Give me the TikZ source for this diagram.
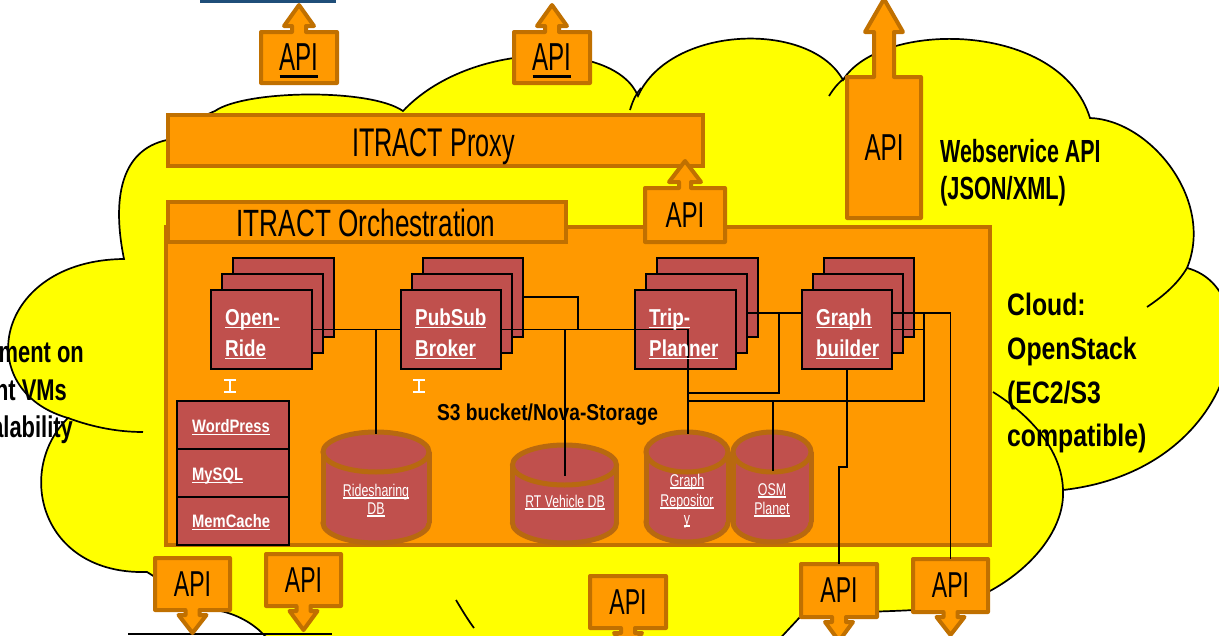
\documentclass[tikz,border=0pt]{standalone}
\usepackage{fontspec}
\setmainfont{Liberation Sans}
\usepackage{graphicx}
\usetikzlibrary{calc}
\definecolor{cyel}{HTML}{FFFF00}
\definecolor{corg}{HTML}{FF9900}
\definecolor{corgb}{HTML}{C07000}
\definecolor{cred}{HTML}{C0504D}
\definecolor{ccylb}{HTML}{B8690F}
\definecolor{cblue}{HTML}{1F4E79}
\newcommand{\sx}[2]{\scalebox{#1}[1]{#2}}
\newcommand{\ulbox}[3]{\setbox0=\hbox{#3}\rlap{\raisebox{0pt}[0pt][0pt]{\rule[-#1]{\wd0}{#2}}}\box0}
\newcommand{\fs}[1]{\fontsize{#1}{#1}\selectfont}
\newcommand{\apiup}[8]{%
 \draw[apishape] ({#1-#2},#3) -- ({#1-#5},#3) -- ({#1-#5},#7) -- ({#1-#6},#7) -- (#1,#8) -- ({#1+#6},#7) -- ({#1+#5},#7) -- ({#1+#5},#3) -- ({#1+#2},#3) -- ({#1+#2},#4) -- ({#1-#2},#4) -- cycle;}
\newcommand{\apidown}[8]{%
 \draw[apishape] ({#1-#2},#3) -- ({#1+#2},#3) -- ({#1+#2},#4) -- ({#1+#5},#4) -- ({#1+#5},#7) -- ({#1+#6},#7) -- (#1,#8) -- ({#1-#6},#7) -- ({#1-#5},#7) -- ({#1-#5},#4) -- ({#1-#2},#4) -- cycle;}
\newcommand{\cylinder}[4]{% cx, rx, ytop, ybot
 \filldraw[cyl] (#1,{#4-20}) ellipse[x radius=#2, y radius=20];
 \fill[cred] ({#1-#2},{#3+20}) rectangle ({#1+#2},{#4-20});
 \draw[cylside] ({#1-#2},{#3+20}) -- ({#1-#2},{#4-20});
 \draw[cylside] ({#1+#2},{#3+20}) -- ({#1+#2},{#4-20});
 \filldraw[cyl] (#1,{#3+20}) ellipse[x radius=#2, y radius=20];}
\tikzset{
 cloudln/.style={draw=black, line width=1.7},
 obox/.style={draw=corgb, fill=corg, line width=4.5, rectangle, inner sep=0, outer sep=0},
 apishape/.style={draw=corgb, fill=corg, line width=4, line join=round},
 apitxt/.style={rectangle, inner sep=0, outer sep=0, text=black},
 comp/.style={draw=black, fill=cred, line width=2, rectangle, inner sep=0, outer sep=0},
 conn/.style={draw=black, line width=1.8},
 cyl/.style={draw=ccylb, fill=cred, line width=5},
 cylside/.style={draw=ccylb, line width=5},
 wlab/.style={text=white, font=\bfseries\fs{23}, inner sep=0, anchor=base west},
 slab/.style={text=white, font=\bfseries\fs{18}, inner sep=0, anchor=base west},
 clab/.style={text=white, font=\fs{17}, inner sep=0, anchor=base},
 btxt/.style={text=black, font=\bfseries\fs{32}, inner sep=0, anchor=base west},
 ltxt/.style={text=black, font=\bfseries\fs{30}, inner sep=0, anchor=base east},
 ibeam/.style={draw=white, line width=1.3},
}
\begin{document}
\begin{tikzpicture}[x=1pt, y=-1pt]
\useasboundingbox (0,0) rectangle (1219,635);
\clip (0,0) rectangle (1219,635);
\fill[white] (0,0) rectangle (1219,635);
% cloud
\path[fill=cyel, cloudln]
 (124,259) .. controls (112,200) and (120,150) .. (167,140)
 .. controls (185,128) and (200,117) .. (215,111)
 .. controls (245,90) and (370,88) .. (403,111)
 .. controls (470,40) and (615,40) .. (638,96)
 .. controls (670,25) and (810,20) .. (843,80)
 .. controls (880,20) and (1060,20) .. (1090,118)
 .. controls (1150,120) and (1215,200) .. (1187,268)
 .. controls (1270,290) and (1240,470) .. (1063,490)
 .. controls (1065,530) and (1030,570) .. (988,592)
 .. controls (960,605) and (930,610) .. (914,610)
 .. controls (880,612) and (830,612) .. (800,617)
 -- (760,660) -- (290,660) -- (264,635)
 .. controls (250,620) and (230,612) .. (215,610)
 .. controls (190,600) and (160,580) .. (147,572)
 .. controls (40,575) and (15,470) .. (68,418)
 .. controls (-30,390) and (-5,260) .. (124,259) -- cycle;
\draw[cloudln] (68,418) .. controls (95,428) and (120,432) .. (143,432);
\draw[cloudln] (456,600) .. controls (462,610) and (468,620) .. (474,628);
\draw[cloudln] (630,110) .. controls (633,100) and (636,94) .. (641,88);
\draw[cloudln] (829,96) .. controls (834,88) and (839,82) .. (845,78);
\draw[cloudln] (1147,307) .. controls (1165,295) and (1178,283) .. (1187,268);
\draw[cloudln] (993,392) .. controls (1030,415) and (1062,450) .. (1063,490);
% frame bits
\fill[cblue] (200,0) rectangle (336,3);
\draw[line width=2] (128,634) -- (332,634);
% left text (cut off by the frame as in the reference)
\node[ltxt] (lt1) at (84,362) {\sx{0.73}{ment on}};
\node[ltxt] (lt2) at (67,400) {\sx{0.73}{nt VMs}};
\node[ltxt] (lt3) at (73,437) {\sx{0.73}{alability}};
% right texts
\node[btxt] (ws1) at (940,162) {\sx{0.67}{Webservice API}};
\node[btxt] (ws2) at (940,199) {\sx{0.68}{(JSON/XML)}};
\node[btxt, font=\bfseries\fs{31}] (cl1) at (1007,315) {\sx{0.8}{Cloud:}};
\node[btxt, font=\bfseries\fs{31}] (cl2) at (1007,359) {\sx{0.8}{OpenStack}};
\node[btxt, font=\bfseries\fs{31}] (cl3) at (1007,403) {\sx{0.8}{(EC2/S3}};
\node[btxt, font=\bfseries\fs{31}] (cl4) at (1007,446) {\sx{0.8}{compatible)}};
% proxy
\node[obox, minimum width=535, minimum height=51] (proxy) at (435.5,140.5) {};
\node[inner sep=0, anchor=base, font=\fs{40}] (proxyT) at (433.5,156) {\sx{0.63}{ITRACT Proxy}};
% top APIs
\apiup{299}{38}{32}{83}{7}{15}{26}{5}
\node[apitxt, minimum width=76, minimum height=51, font=\fs{39}] (apiT1) at (299,57.5) {\sx{0.62}{\ulbox{7pt}{3pt}{API}}};
\apiup{552}{38}{32}{83}{7}{15}{26}{5}
\node[apitxt, minimum width=76, minimum height=51, font=\fs{39}] (apiT2) at (552,57.5) {\sx{0.62}{\ulbox{7pt}{3pt}{API}}};
% big API
\apiup{884}{37}{77}{218}{10}{19}{32}{-1}
\node[apitxt, minimum width=74, minimum height=141, font=\fs{37.5}] (apiBig) at (884,147.5) {\sx{0.645}{API}};
% orchestration
\node[obox, minimum width=824, minimum height=318] (orch) at (578,386) {};
\node[obox, minimum width=398, minimum height=40] (orchTab) at (367,222) {};
\node[inner sep=0, anchor=base, font=\fs{38}] (orchT) at (366,236) {\sx{0.688}{ITRACT Orchestration}};
\apiup{685}{40}{188}{242}{6}{16}{182}{161}
\node[apitxt, minimum width=80, minimum height=54, font=\fs{36}] (apiM) at (685,215) {\sx{0.67}{API}};
% component stacks
\node[comp, minimum width=101, minimum height=79] (or3) at (283.5,297.5) {};
\node[comp, minimum width=101, minimum height=79] (or2) at (272.5,313.5) {};
\node[comp, minimum width=101, minimum height=79] (or1) at (261.5,329.5) {};
\node[comp, minimum width=100, minimum height=79] (pb3) at (473,297.5) {};
\node[comp, minimum width=100, minimum height=79] (pb2) at (462,313.5) {};
\node[comp, minimum width=100, minimum height=79] (pb1) at (451,329.5) {};
\node[comp, minimum width=101, minimum height=79] (tp3) at (707.5,297.5) {};
\node[comp, minimum width=101, minimum height=79] (tp2) at (696.5,313.5) {};
\node[comp, minimum width=101, minimum height=79] (tp1) at (685,329.5) {};
\node[comp, minimum width=90, minimum height=79] (gb3) at (869,297.5) {};
\node[comp, minimum width=90, minimum height=79] (gb2) at (858,313.5) {};
\node[comp, minimum width=90, minimum height=79] (gb1) at (847,329.5) {};
\node[comp, minimum width=112, minimum height=48] (wp) at (233,425) {};
\node[comp, minimum width=112, minimum height=48] (my) at (233,473) {};
\node[comp, minimum width=112, minimum height=48] (mc) at (233,521) {};
% cylinders
\cylinder{376}{53}{432}{543}
\cylinder{564.5}{52}{445}{543}
\cylinder{687}{41}{432}{542}
\cylinder{772}{39}{432}{542}
\coordinate (rideTop) at (376,434);
\coordinate (rtTop) at (565,476);
\coordinate (grTop) at (688,434);
\coordinate (osmTop) at (773,471);
% bottom APIs
\apidown{192.5}{37.5}{558}{610}{7}{14}{615}{633}
\node[apitxt, minimum width=75, minimum height=52, font=\fs{36}] (api1) at (192.5,584) {\sx{0.64}{API}};
\apidown{303.5}{37.5}{554}{606}{7}{14}{611}{630}
\node[apitxt, minimum width=75, minimum height=52, font=\fs{36}] (api2) at (303.5,580) {\sx{0.64}{API}};
\apidown{628}{38}{576}{628}{7}{14}{633}{652}
\node[apitxt, minimum width=76, minimum height=52, font=\fs{36}] (api3) at (628,602) {\sx{0.64}{API}};
\apidown{839}{38}{564}{617}{7}{14}{622}{641}
\node[apitxt, minimum width=76, minimum height=53, font=\fs{36}] (api4) at (839,590.5) {\sx{0.64}{API}};
\apidown{950.5}{37.5}{559}{612}{7}{14}{617}{635}
\node[apitxt, minimum width=75, minimum height=53, font=\fs{36}] (api5) at (950.5,585.5) {\sx{0.64}{API}};
% connectors
\coordinate (jA) at (578,297);
\coordinate (jB) at (779,313);
\coordinate (jC) at (950.5,313);
\coordinate (jD) at (924,313);
\coordinate (jE) at (924,401);
\coordinate (jF) at (847,467);
\draw[conn] (or1.east) -- (pb1.west);
\draw[conn] (rideTop |- or1.east) -- (rideTop);
\draw[conn] (pb1.east) -- (grTop |- pb1.east) -- (grTop);
\draw[conn] (pb3.east |- jA) -- (jA) -- (jA |- pb1.east);
\draw[conn] (rtTop |- pb1.east) -- (rtTop);
\draw[conn] (tp2.east |- jB) -- (gb1.west |- jB);
\draw[conn] (jB) -- (jB |- 0,393) -- (grTop |- 0,393);
\draw[conn] (gb1.east |- jC) -- (jC) -- (api5.north);
\draw[conn] (gb1.east) -- (jD |- gb1.east);
\draw[conn] (jD) -- (jE) -- (grTop |- jE);
\draw[conn] (osmTop |- jE) -- (osmTop);
\draw[conn] (gb1.south) -- (jF) -- (api4.north |- jF) -- (api4.north);
% component labels
\node[wlab] (orL1) at (225,325) {\sx{0.82}{\ulbox{3pt}{1.5pt}{Open-}}};
\node[wlab] (orL2) at (225,356) {\sx{0.82}{\ulbox{3pt}{1.5pt}{Ride}}};
\node[wlab] (pbL1) at (415,325) {\sx{0.82}{\ulbox{3pt}{1.5pt}{PubSub}}};
\node[wlab] (pbL2) at (415,356) {\sx{0.82}{\ulbox{3pt}{1.5pt}{Broker}}};
\node[wlab] (tpL1) at (649,325) {\sx{0.82}{\ulbox{3pt}{1.5pt}{Trip-}}};
\node[wlab] (tpL2) at (649,356) {\sx{0.82}{\ulbox{3pt}{1.5pt}{Planner}}};
\node[wlab] (gbL1) at (816,325) {\sx{0.82}{\ulbox{3pt}{1.5pt}{Graph}}};
\node[wlab] (gbL2) at (816,356) {\sx{0.82}{\ulbox{3pt}{1.5pt}{builder}}};
\node[slab] (wpL) at (192,432) {\sx{0.82}{\ulbox{3pt}{1.3pt}{WordPress}}};
\node[slab] (myL) at (192,480) {\sx{0.82}{\ulbox{3pt}{1.3pt}{MySQL}}};
\node[slab] (mcL) at (192,527) {\sx{0.82}{\ulbox{3pt}{1.3pt}{MemCache}}};
\node[clab] (rdL1) at (376,496) {\sx{0.73}{\ulbox{2.5pt}{1.2pt}{Ridesharing}}};
\node[clab] (rdL2) at (376,514) {\sx{0.73}{\ulbox{2.5pt}{1.2pt}{DB}}};
\node[clab] (rtL) at (565,507) {\sx{0.72}{\ulbox{2.5pt}{1.2pt}{RT Vehicle DB}}};
\node[clab] (grL1) at (687,486) {\sx{0.73}{\ulbox{2.5pt}{1.2pt}{Graph}}};
\node[clab] (grL2) at (687,506) {\sx{0.73}{\ulbox{2.5pt}{1.2pt}{Repositor}}};
\node[clab] (grL3) at (687,524) {\sx{0.73}{\ulbox{2.5pt}{1.2pt}{y}}};
\node[clab] (osL1) at (772,495) {\sx{0.73}{\ulbox{2.5pt}{1.2pt}{OSM}}};
\node[clab] (osL2) at (772,514) {\sx{0.73}{\ulbox{2.5pt}{1.2pt}{Planet}}};
\node[inner sep=0, anchor=base, font=\bfseries\fs{23}] (s3) at (547.5,420) {\sx{0.835}{S3 bucket/Nova-Storage}};
% I-beams
\draw[ibeam] (224,380) -- (236,380) (230,380) -- (230,392) (224,392) -- (236,392);
\draw[ibeam] (413,380) -- (425,380) (419,380) -- (419,392) (413,392) -- (425,392);
\end{tikzpicture}
\end{document}
